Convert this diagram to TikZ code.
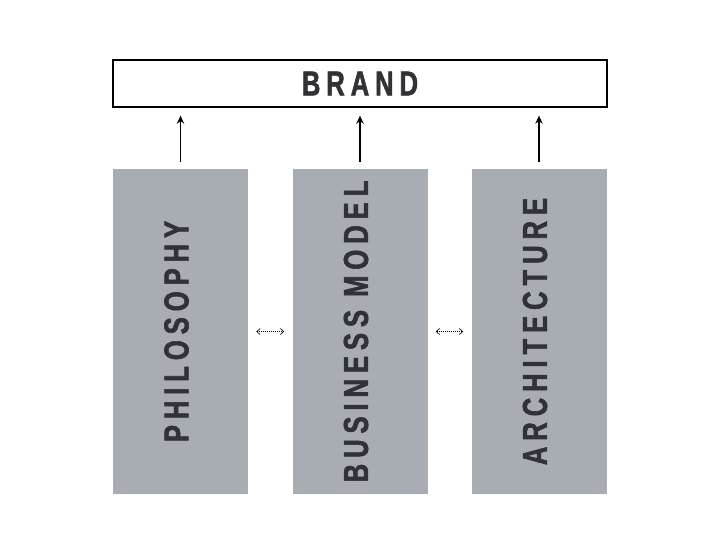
\documentclass[tikz,border=0pt]{standalone}
\usepackage{fontspec}
\newfontfamily\pillarfont{Liberation Sans Bold}[FakeStretch=0.74,LetterSpace=17,FakeBold=1.6]
\usetikzlibrary{arrows.meta}
\definecolor{pillar}{HTML}{A8ADB4}
\definecolor{ink}{HTML}{303235}

\begin{document}
\begin{tikzpicture}[x=0.75pt,y=-0.75pt,
    label text/.style={font=\pillarfont\fontsize{26}{26}\selectfont,text=ink,inner sep=0pt},
    pillar box/.style={fill=pillar,minimum width=101.25pt,minimum height=243.75pt,inner sep=0pt},
    up arrow/.style={-{Stealth[length=6pt,width=5.5pt]},line width=1.1pt},
    link arrow/.style={{Straight Barb[length=2.5pt,width=4.5pt]}-{Straight Barb[length=2.5pt,width=4.5pt]},densely dotted,line width=0.5pt}]

\useasboundingbox (0,0) rectangle (720,540);

% the brand bar on top
\node[draw,line width=1pt,minimum width=370.5pt,minimum height=35.25pt,inner sep=0pt] (brand) at (360,83.5) {};
\node[label text] at (brand.center) {BRAND};

% three pillars
\node[pillar box] (philosophy) at (180.5,331.5) {};
\node[pillar box] (business) at (360,331.5) {};
\node[pillar box] (architecture) at (539,331.5) {};

\node[label text,rotate=90] at ([xshift=-3pt]philosophy.center) {PHILOSOPHY};
\node[label text,rotate=90] at ([xshift=-3pt]business.center) {BUSINESS MODEL};
\node[label text,rotate=90] at ([xshift=-3pt]architecture.center) {ARCHITECTURE};

% arrows up to the brand
\foreach \p in {philosophy,business,architecture}
  \draw[up arrow] ([yshift=5.25pt]\p.north) -- ([yshift=-6pt]\p.north |- brand.south);

% dotted links between pillars
\draw[link arrow] ([xshift=6pt]philosophy.east) -- ([xshift=-6pt]business.west);
\draw[link arrow] ([xshift=6pt]business.east) -- ([xshift=-6pt]architecture.west);

\end{tikzpicture}
\end{document}
